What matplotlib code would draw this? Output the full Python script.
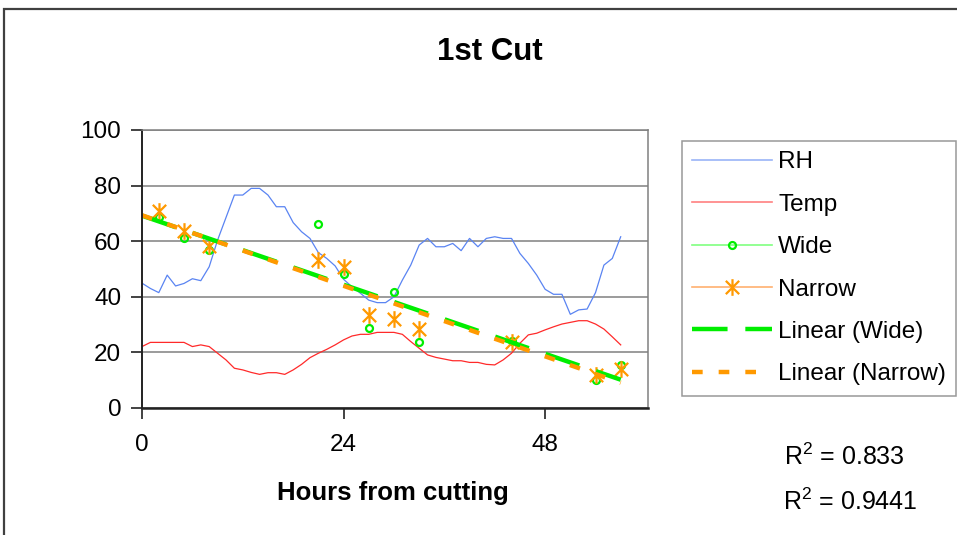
import matplotlib
matplotlib.use('Agg')
import matplotlib.pyplot as plt
import numpy as np
from matplotlib.lines import Line2D
from matplotlib.path import Path
from matplotlib.patches import Rectangle

plt.rcParams['font.family'] = ['Liberation Sans', 'DejaVu Sans']
plt.rcParams['mathtext.fontset'] = 'custom'
plt.rcParams['mathtext.rm'] = 'Liberation Sans'

# hourly weather readings
hours = np.arange(58)
rh = [44.9, 43.0, 41.5, 47.8, 43.9, 44.8, 46.5, 45.8, 50.8, 60.4,
      68.5, 76.6, 76.6, 79.0, 79.0, 76.6, 72.4, 72.4, 66.7, 63.4,
      61.0, 55.9, 53.8, 51.1, 46.3, 43.6, 41.3, 38.8, 37.9, 37.9,
      40.0, 46.0, 51.4, 58.6, 61.0, 58.0, 58.0, 59.2, 56.6, 61.0,
      58.0, 61.0, 61.6, 61.0, 61.0, 55.6, 52.0, 47.8, 42.7, 40.9,
      40.9, 33.7, 35.3, 35.6, 41.5, 51.4, 53.8, 61.6]
temp = [22.1, 23.6, 23.6, 23.6, 23.6, 23.6, 22.1, 22.7, 22.1, 19.7,
        17.3, 14.3, 13.7, 12.8, 12.1, 12.7, 12.7, 12.1, 13.7, 15.7,
        18.1, 19.7, 21.1, 22.7, 24.5, 25.9, 26.5, 26.5, 27.2, 27.2,
        27.2, 26.5, 23.9, 21.5, 19.1, 18.2, 17.6, 17.0, 17.0, 16.4,
        16.4, 15.7, 15.5, 17.3, 19.7, 23.3, 26.3, 26.9, 28.1, 29.2,
        30.2, 30.8, 31.4, 31.4, 30.2, 28.4, 25.6, 22.7]

# moisture samples
sample_hours = [2, 5, 8, 21, 24, 27, 30, 33, 44, 54, 57]
wide = [68.6, 61.3, 56.8, 66.3, 48.2, 28.9, 41.8, 23.9, 24.0, 10.1, 15.5]
narrow = [71.0, 63.7, 58.3, 53.2, 50.8, 33.5, 31.9, 28.4, 23.6, 11.9, 13.9]

r2_labels = ['R$^{2}$ = 0.833', 'R$^{2}$ = 0.9441']

blue = '#5a84f2'
red = '#ff2a2a'
green = '#00ee00'
orange = '#ff9900'
fs = 17.5

# excel-ish star marker
star = Path([(-1, -1), (1, 1), (-1, 1), (1, -1), (0, -1.25), (0, 1.25)],
            [Path.MOVETO, Path.LINETO, Path.MOVETO, Path.LINETO, Path.MOVETO, Path.LINETO])

fig = plt.figure(figsize=(9.57, 5.35), dpi=100)
W, H = 957, 535
ax = fig.add_axes([142 / W, 1 - 408 / H, (648 - 142) / W, (408 - 130) / H])

ax.plot(hours, rh, color=blue, lw=0.9)
ax.plot(hours, temp, color=red, lw=0.9)
ax.plot(sample_hours, wide, ls='none', marker='o', ms=5, mfc='none', mec=green, mew=1.6)
ax.plot(sample_hours, narrow, ls='none', marker=star, ms=12, mfc='none', mec=orange, mew=1.6)

# linear trendlines over the whole time span
xt = np.array([0, 57])
pw = np.polyfit(sample_hours, wide, 1)
pn = np.polyfit(sample_hours, narrow, 1)
ax.plot(xt, np.polyval(pw, xt), color=green, lw=3.2, dashes=(8, 4), solid_capstyle='butt')
ax.plot(xt, np.polyval(pn, xt), color=orange, lw=3.2, dashes=(2.4, 3.6))

ax.set_xlim(0, 60.25)
ax.set_ylim(0, 100)
ax.set_xticks([0, 24, 48])
ax.set_yticks(range(0, 101, 20))
ax.tick_params(labelsize=fs, length=8, width=1.2, direction='out', color='#222222')
ax.tick_params(axis='x', pad=11)
ax.tick_params(axis='y', pad=7)
ax.yaxis.grid(True, color='#808080', lw=1.1)
ax.set_axisbelow(True)
for s in ['top', 'right']:
    ax.spines[s].set_color('#808080')
    ax.spines[s].set_linewidth(1.1)
ax.spines['left'].set_color('#222222')
ax.spines['left'].set_linewidth(1.4)
ax.spines['bottom'].set_color('#222222')
ax.spines['bottom'].set_linewidth(1.8)

fig.text(489.5 / W, 1 - 60 / H, '1st Cut', ha='center', va='baseline',
         fontsize=22.5, fontweight='bold')
fig.text(393 / W, 1 - 500 / H, 'Hours from cutting', ha='center', va='baseline',
         fontsize=18.5, fontweight='bold')
fig.text(784 / W, 1 - 465 / H, r2_labels[0], ha='left', va='baseline', fontsize=18)
fig.text(783 / W, 1 - 510 / H, r2_labels[1], ha='left', va='baseline', fontsize=18)

handles = [
    Line2D([], [], color='#9ab4f7', lw=1.2),
    Line2D([], [], color='#ff8080', lw=1.2),
    Line2D([], [], color='#80ff80', lw=1.2, marker='o', ms=5, mfc='none', mec=green, mew=1.6),
    Line2D([], [], color='#ffb070', lw=1.2, marker=star, ms=12, mfc='none', mec=orange, mew=1.6),
    Line2D([], [], color=green, lw=3.2, dashes=(8, 4)),
    Line2D([], [], color=orange, lw=3.2, dashes=(2.4, 3.6)),
]
labels = ['RH', 'Temp', 'Wide', 'Narrow', 'Linear (Wide)', 'Linear (Narrow)']
leg = fig.legend(handles, labels, loc='upper left', bbox_to_anchor=(681.7 / W, 1 - 141 / H),
                 borderaxespad=0, fontsize=fs, fancybox=False, handlelength=3.3,
                 handletextpad=0.25, labelspacing=0.84, borderpad=0.42, markerscale=1)
leg.get_frame().set_edgecolor('#808080')
leg.get_frame().set_linewidth(1.1)

# outer chart border
fig.add_artist(Rectangle((4 / W, -0.2), 1.2, 1 - 9 / H + 0.2, transform=fig.transFigure,
                         fill=False, edgecolor='#404040', lw=1.6, clip_on=False))

fig.savefig('out.png', dpi=100)
